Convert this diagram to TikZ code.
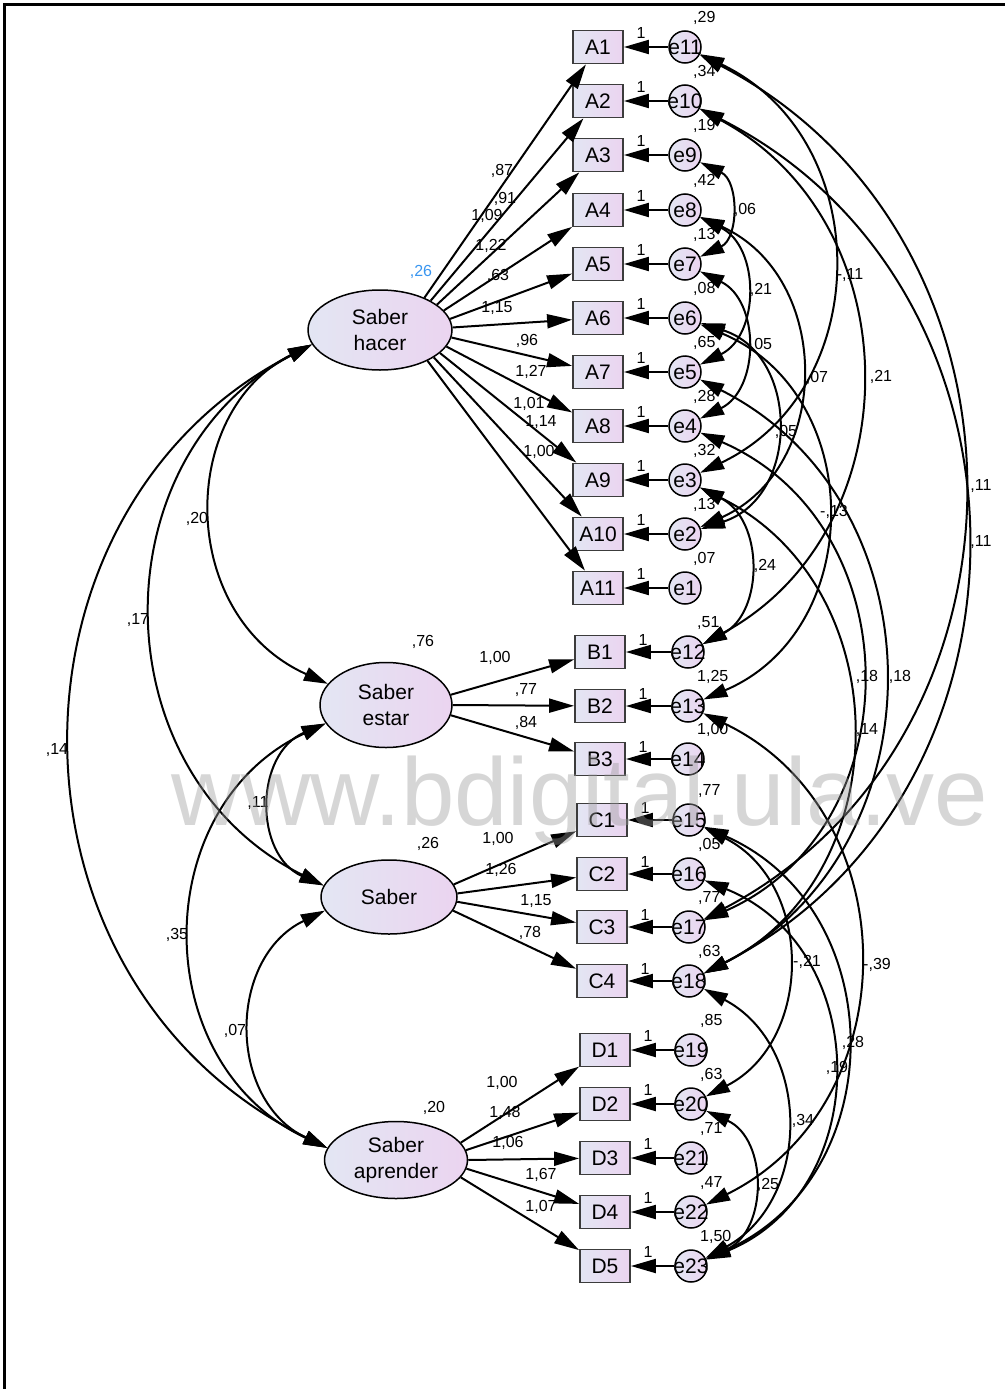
\documentclass[tikz,border=0pt]{standalone}
\usepackage{fontspec}
\setmainfont{Liberation Sans}
\usetikzlibrary{shapes.geometric,arrows.meta}
\definecolor{amosblue}{HTML}{E3E6F3}
\definecolor{amospink}{HTML}{EBD4F0}
\definecolor{selblue}{HTML}{3A96F0}
\definecolor{boxgray}{HTML}{3C3C3C}
\definecolor{markgray}{HTML}{999999}

\begin{document}
\begin{tikzpicture}[x=1pt, y=-1pt,
    font=\fontsize{21}{26}\selectfont,
    latent/.style={ellipse, draw=black, line width=1.5pt, left color=amosblue, right color=amospink, align=center, inner sep=0pt},
    obs/.style={rectangle, draw=boxgray, line width=1.8pt, left color=amosblue, right color=amospink, minimum width=50pt, minimum height=33pt, inner sep=0pt},
    err/.style={circle, draw=black, line width=1.5pt, left color=amosblue, right color=amospink, minimum size=32pt, inner sep=0pt},
    lbl/.style={font=\fontsize{16}{18}\selectfont, inner sep=0pt},
    load/.style={line width=2pt, -{Triangle[length=25pt,width=14pt]}},
    cov/.style={line width=2pt, {Triangle[length=24pt,width=14pt]}-{Triangle[length=24pt,width=14pt]}}]
    \useasboundingbox (0,0) rectangle (1005,1389);
    \fill[white] (0,0) rectangle (1005,1389);

    % frame of the screenshot
    \draw[line width=3pt] (4,1389) -- (4,5) -- (1005,5);

    % latent factors
    \node[latent, minimum width=144pt, minimum height=80pt] (hacer) at (380,330) {Saber\\hacer};
    \node[latent, minimum width=132pt, minimum height=85pt] (estar) at (386,705) {Saber\\estar};
    \node[latent, minimum width=136pt, minimum height=74pt] (saber) at (389,897) {Saber};
    \node[latent, minimum width=143pt, minimum height=77pt] (aprender) at (396,1160) {Saber\\aprender};
    \node[lbl, text=selblue] (vhacer) at (421,272) {,26};
    \node[lbl] (vestar) at (423,642) {,76};
    \node[lbl] (vsaber) at (428,844) {,26};
    \node[lbl] (vaprender) at (434,1108) {,20};

    % items with their errors
    \foreach \i/\y/\e/\v in {1/47/11/{,29}, 2/101/10/{,34}, 3/155/9/{,19}, 4/210/8/{,42}, 5/264/7/{,13}, 6/318/6/{,08}, 7/372/5/{,65}, 8/426/4/{,28}, 9/480/3/{,32}, 10/534/2/{,13}, 11/588/1/{,07}} {
        \node[obs] (A\i) at (598,\y) {A\i};
        \node[err] (e\e) at (685,\y) {\makebox[0pt]{e\e}};
        \draw[load] (e\e) -- (A\i);
        \node[lbl] (uA\i) at (641,\y-14) {1};
        \node[lbl, anchor=west] (v\e) at (693,\y-29) {\v};
    }
    \foreach \i/\y/\e/\v in {1/652/12/{,51}, 2/706/13/{1,25}, 3/759/14/{1,00}} {
        \node[obs] (B\i) at (600,\y) {B\i};
        \node[err] (e\e) at (688,\y) {\makebox[0pt]{e\e}};
        \draw[load] (e\e) -- (B\i);
        \node[lbl] (uB\i) at (643,\y-12) {1};
        \node[lbl, anchor=west] (v\e) at (697,\y-29) {\v};
    }
    \foreach \i/\y/\e/\v in {1/820/15/{,77}, 2/874/16/{,05}, 3/927/17/{,77}, 4/981/18/{,63}} {
        \node[obs] (C\i) at (602,\y) {C\i};
        \node[err] (e\e) at (689,\y) {\makebox[0pt]{e\e}};
        \draw[load] (e\e) -- (C\i);
        \node[lbl] (uC\i) at (645,\y-12) {1};
        \node[lbl, anchor=west] (v\e) at (698,\y-29) {\v};
    }
    \foreach \i/\y/\e/\v in {1/1050/19/{,85}, 2/1104/20/{,63}, 3/1158/21/{,71}, 4/1212/22/{,47}, 5/1266/23/{1,50}} {
        \node[obs] (D\i) at (605,\y) {D\i};
        \node[err] (e\e) at (691,\y) {\makebox[0pt]{e\e}};
        \draw[load] (e\e) -- (D\i);
        \node[lbl] (uD\i) at (648,\y-14) {1};
        \node[lbl, anchor=west] (v\e) at (700,\y-29) {\v};
    }

    % loadings (start angle on the factor, label)
    \foreach \i/\t/\lx/\ly/\v in {1/36/502/171/{,87}, 2/30/505/199/{,91}, 3/24/487/216/{1,09}, 4/17/491/246/{1,22}, 5/9.5/498/276/{,63}, 6/2/497/308/{1,15}, 7/-6/527/341/{,96}, 8/-14/531/372/{1,27}, 9/-21/529/404/{1,01}, 10/-27.5/541/422/{1,14}, 11/-33/539/452/{1,00}} {
        \draw[load] (hacer.\t) -- (A\i);
        \node[lbl] (lA\i) at (\lx,\ly) {\v};
    }
    \foreach \i/\t/\lx/\ly/\v in {1/9/495/658/{1,00}, 2/0/526/690/{,77}, 3/-9/526/723/{,84}} {
        \draw[load] (estar.\t) -- (B\i);
        \node[lbl] (lB\i) at (\lx,\ly) {\v};
    }
    \foreach \i/\t/\lx/\ly/\v in {1/11/498/839/{1,00}, 2/3.4/501/870/{1,26}, 3/-4.4/536/901/{1,15}, 4/-12/530/933/{,78}} {
        \draw[load] (saber.\t) -- (C\i);
        \node[lbl] (lC\i) at (\lx,\ly) {\v};
    }
    \foreach \i/\t/\lx/\ly/\v in {1/15.5/502/1083/{1,00}, 2/8/505/1113/{1,48}, 3/0.3/508/1143/{1,06}, 4/-7.5/541/1175/{1,67}, 5/-15/541/1207/{1,07}} {
        \draw[load] (aprender.\t) -- (D\i);
        \node[lbl] (lD\i) at (\lx,\ly) {\v};
    }

    % covariances between factors
    \draw[cov] (hacer.192) .. controls (177,412) and (177,616) .. (estar.160);
    \draw[cov] (hacer.192) .. controls (98,457) and (98,773) .. (saber.170);
    \draw[cov] (hacer.192) .. controls (-10,510) and (-10,982) .. (aprender.170);
    \draw[cov] (estar.197) .. controls (254,754) and (254,855) .. (saber.170);
    \draw[cov] (estar.197) .. controls (147,807) and (147,1064) .. (aprender.170);
    \draw[cov] (saber.192) .. controls (227,958) and (227,1100) .. (aprender.170);
    \node[lbl] (chs) at (197,519) {,20};
    \node[lbl] (chk) at (138,620) {,17};
    \node[lbl] (cha) at (57,750) {,14};
    \node[lbl] (cek) at (258,803) {,11};
    \node[lbl] (cea) at (177,935) {,35};
    \node[lbl] (cka) at (235,1031) {,07};

    % covariances between errors
    \foreach \a/\b/\cx/\ca/\cb/\lx/\ly/\v in {9/7/739/181/238/745/210/{,06}, 8/5/760/247/335/761/290/{,21}, 7/4/760/301/389/761/345/{,05},
        11/3/876/138/389/850/275/{-,11}, 8/2/833/277/467/817/378/{,07}, 10/12/913/223/530/881/377/{,21},
        6/2/800/355/497/786/432/{,05}, 6/13/867/394/630/834/512/{-,13}, 3/12/764/520/612/765/566/{,24},
        11/17/1049/237/737/981/486/{,11}, 10/18/1053/288/794/981/542/{,11}, 5/18/943/502/850/900/677/{,18},
        4/17/913/525/828/867/677/{,18}, 3/18/900/587/874/867/730/{,14}, 15/20/814/883/1041/807/962/{-,21},
        13/22/909/812/1104/877/965/{-,39}, 15/23/892/910/1175/853/1043/{,28}, 16/23/874/949/1190/837/1068/{,19},
        18/23/812/1046/1200/803/1121/{,34}, 20/23/768/1139/1230/768/1185/{,25}} {
        \draw[cov] (e\a) .. controls (\cx,\ca) and (\cx,\cb) .. (e\b);
        \node[lbl] (cv\a-\b) at (\lx,\ly) {\v};
    }

    % watermark
    \node[text=markgray, opacity=0.4, font=\fontsize{96}{96}\selectfont, anchor=base, inner sep=0pt] (mark) at (580,825) {www.bdigital.ula.ve};
\end{tikzpicture}
\end{document}
